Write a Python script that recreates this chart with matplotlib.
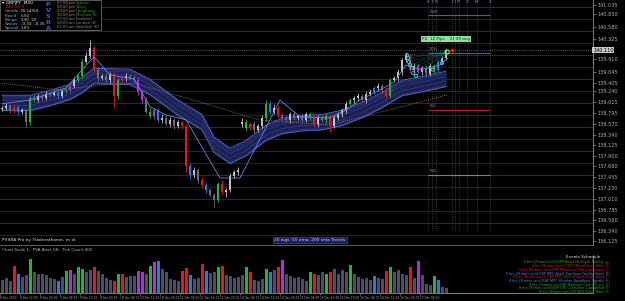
import numpy as np
import matplotlib.pyplot as plt

W, H = 625, 301

# GBPJPY bars (prices), one per slot
closes = [
    138.90, 138.94, 138.85, 138.92, 138.81, 138.85, 138.60, 139.10, 139.06, 139.14,
    139.10, 139.19, 139.17, 139.21, 139.14, 139.25, 139.27, 139.35, 139.48, 139.56,
    139.85, 139.98, 140.14, 139.69, 139.52, 139.56, 139.48, 139.60, 139.14, 139.48,
    139.52, 139.56, 139.52, 139.48, 139.23, 139.06, 138.81, 138.73, 138.85, 138.65,
    138.69, 138.56, 138.65, 138.52, 138.60, 138.52, 137.69, 137.50, 137.61, 137.40,
    137.30, 137.19, 137.09, 136.98, 137.32, 137.15, 137.19, 137.48, 137.56, 137.61,
    138.60, 138.48, 138.56, 138.44, 138.52, 138.69, 138.98, 138.81, 138.90, 138.75,
    138.69, 138.65, 138.77, 138.69, 138.73, 138.65, 138.77, 138.69, 138.56, 138.69,
    138.65, 138.73, 138.52, 138.69, 138.77, 138.85, 138.98, 139.06, 139.10, 139.14,
    139.06, 139.19, 139.23, 139.31, 139.35, 139.27, 139.14, 139.48, 139.52, 139.64,
    139.89, 139.98, 139.69, 139.77, 139.64, 139.73, 139.60, 139.77, 139.69, 139.85,
    139.93, 140.10,
]
first_open = 138.88
gap_open = {60: 138.56}
# wick extensions in pips
hi_ext = [
    4, 5, 3, 6, 4, 5, 3, 4, 6, 5,
    4, 6, 3, 5, 4, 3, 5, 4, 6, 5,
    6, 8, 17, 6, 5, 4, 7, 5, 4, 6,
    5, 7, 4, 6, 5, 4, 6, 8, 5, 4,
    7, 5, 6, 4, 5, 3, 4, 6, 5, 4,
    6, 4, 5, 3, 4, 8, 5, 6, 4, 5,
    9, 6, 5, 7, 4, 5, 8, 6, 7, 5,
    4, 6, 5, 7, 4, 6, 5, 4, 6, 5,
    4, 7, 5, 6, 4, 5, 6, 4, 5, 7,
    4, 6, 5, 4, 6, 5, 7, 4, 5, 6,
    5, 6, 4, 5, 7, 4, 5, 6, 4, 5,
    4, 3,
]
lo_ext = [
    5, 4, 6, 5, 7, 4, 10, 6, 4, 5,
    6, 4, 5, 3, 6, 4, 5, 4, 3, 5,
    4, 3, 5, 4, 6, 5, 4, 6, 24, 5,
    4, 6, 5, 4, 7, 6, 5, 4, 6, 5,
    6, 4, 5, 7, 4, 6, 13, 8, 5, 6,
    7, 6, 5, 14, 4, 6, 11, 5, 4, 6,
    5, 7, 4, 6, 5, 4, 6, 5, 4, 6,
    5, 4, 6, 5, 4, 6, 5, 4, 7, 5,
    4, 6, 12, 5, 4, 6, 5, 4, 6, 5,
    4, 6, 5, 4, 6, 7, 5, 4, 5, 6,
    5, 4, 6, 5, 4, 6, 5, 4, 6, 5,
    4, 3,
]
# tick volume
volume = [
    1300, 1500, 1200, 2800, 2000, 1600, 1800, 3500, 2200, 2000,
    2000, 1800, 1500, 1400, 1200, 1600, 2300, 2400, 2000, 2700,
    2500, 2200, 2400, 2700, 2300, 2000, 1500, 1300, 1200, 2000,
    2000, 1600, 1700, 1700, 2300, 2200, 2000, 2800, 3200, 3300,
    2500, 2200, 1400, 1300, 1200, 2300, 2600, 1800, 1400, 1500,
    3000, 2300, 2100, 2200, 2700, 2800, 1800, 1700, 1500, 1600,
    1800, 2700, 2200, 1300, 1200, 1400, 2500, 2200, 2400, 2700,
    3400, 2000, 1700, 1500, 1600, 1400, 1200, 2200, 2000, 1800,
    2200, 2000, 2200, 2500, 2000, 2400, 2200, 2900, 2000, 1600,
    1400, 1500, 1300, 1700, 1500, 1400, 2300, 2700, 2200, 2400,
    2000, 1800, 2700, 1500, 3300, 1800, 900, 800, 1700, 1300,
    600, 500,
]
# PVSRA highlighted bars: g climax bull, r climax bear, b / m above average
pvsra_bars = {
    3: "r", 4: "b", 7: "g", 14: "b", 16: "g", 17: "m", 19: "g", 20: "g", 23: "r",
    28: "r", 29: "g", 30: "r", 34: "m", 35: "m", 37: "g", 38: "m", 39: "b",
    45: "r", 46: "r", 47: "b", 50: "r", 51: "b", 54: "g", 55: "r", 61: "g",
    62: "r", 66: "g", 67: "b", 69: "r", 70: "m", 77: "g", 78: "r", 81: "g",
    82: "r", 87: "g", 93: "b", 96: "r", 97: "g", 102: "r", 104: "m", 108: "g",
    109: "b",
}

# moving average band (20 wgt / 50 ema) and fast line, 200 sma
band_idx = [0, 7, 12, 17, 20, 23, 32, 37, 44, 50, 53, 57, 61, 66, 70, 75, 80, 85, 90, 95, 100, 105, 111]
band_mid = [139.00, 139.00, 139.10, 139.23, 139.37, 139.56, 139.54, 139.33, 138.90, 138.60, 138.13,
            137.90, 138.06, 138.38, 138.52, 138.58, 138.60, 138.69, 138.85, 139.06, 139.31, 139.39, 139.50]
fast_idx = [0, 7, 16, 19.5, 23, 27, 33, 37, 41, 46, 54.5, 59.5, 69.5, 74.5, 82, 86, 89.5, 94.5, 98, 101, 104.5, 109.5, 111.5]
fast_val = [138.98, 139.06, 139.31, 139.64, 139.96, 139.58, 139.50, 138.92, 138.75, 138.65, 137.44,
            137.44, 139.06, 138.71, 138.69, 138.85, 139.06, 139.27, 139.43, 139.79, 139.69, 139.79, 139.93]
sma_idx = [0, 14.5, 24.5, 33, 49.5, 64, 82, 111.5]
sma_val = [139.41, 139.27, 139.37, 139.41, 139.02, 138.65, 138.54, 139.17]

round_levels = [141.00, 140.75, 140.50, 140.25, 140.00, 139.75, 139.50, 139.25, 139.00, 138.75,
                138.50, 138.25, 138.00, 137.75, 137.50, 137.25, 137.00, 136.75, 136.50, 136.25]
current_price = 140.10

# day / week levels drawn in the future area
level_names = ["PWH", "PDH", "PDL", "PWL"]
level_values = [140.82, 140.04, 138.85, 137.50]
level_colors = ["#5b4fc8", "#5b4fc8", "#b02030", "#808080"]
session_marks = [106.5, 107.5, 108.5, 112.5, 113.3, 114.3, 116.3, 118.8, 122.0]
session_tags = ["S", "T", "H", "1", "1", "F*", "L*", "N*", "S"]

ytick_values = [141.035, 140.850, 140.580, 140.325, 139.910, 139.645, 139.405, 139.240, 139.015,
                138.795, 138.570, 138.340, 138.125, 137.900, 137.680, 137.455, 137.230, 137.010,
                136.785, 136.560, 136.340, 136.125]
time_labels = ["8 Dec 2020", "8 Dec 12:00", "8 Dec 20:00", "9 Dec 04:00", "9 Dec 12:00", "9 Dec 20:00",
               "10 Dec 04:00", "10 Dec 12:00", "10 Dec 20:00", "11 Dec 04:00", "11 Dec 12:00",
               "11 Dec 20:00", "14 Dec 04:00", "14 Dec 12:00", "14 Dec 20:00", "15 Dec 04:00",
               "15 Dec 12:00", "15 Dec 20:00", "16 Dec 04:00", "16 Dec 12:00", "16 Dec 20:00",
               "17 Dec 04:00"]

vector_pts_idx = [101.2, 101.5, 101.7, 102.0, 102.5, 102.8, 103.5, 107.7, 110.0]
vector_pts_val = [140.00, 139.93, 139.85, 139.79, 139.73, 139.62, 139.56, 139.69, 139.83]

info_labels = ["Candle", "Pips/d", "Range", "Swaps", "Spread"]
info_values = ["00:14/50", "5.50", "130  50", "-0.33  -0.76", "2.80"]
session_times = ["07:00 pm", "08:00 pm", "09:00 pm", "10:00 pm", "07:00 am", "08:00 am", "01:00 am"]
session_cities = ["Sydney", "Tokyo", "HongKong", "Moscow (E)", "Frankfurt", "London (E)", "NewYork (E)"]

events = [
    "5 hrs 29 mins until GBP Asset Purchase Facility",
    "5 hrs 58 mins until GBP Official Bank Rate",
    "5 hrs 58 mins until GBP Monetary Policy Summary",
    "5 hrs 29 mins until GBP MPC Asset Purchase Facility Votes",
    "5 hrs 58 mins until GBP MPC Official Bank Rate Votes",
    "9 hrs 29 mins until GBP MPC Member Broadbent Speaks",
    "9 hrs 29 mins until JPY National Core CPI y/y",
    "8 hrs 58 mins until GBP GfK Consumer Confidence",
    "9 hrs 58 mins until JPY BOJ Policy Rate",
]
event_impact = ["(E)", "(E)", "(E)", "(E)", "(E)", "(E)", "(E)", "(E)", "(E)"]
event_colors = ["#22b422", "#e01a2c", "#e01a2c", "#4a8ce0", "#e01a2c", "#4a8ce0", "#22b422", "#22b422", "#22b422"]

PV_COLORS = {"g": "#1fb53a", "r": "#e3152b", "b": "#1f80dc", "m": "#b030e0"}
NARROW = ["Liberation Sans Narrow", "DejaVu Sans"]


def fxy(x, y):
    return x / W, 1 - y / H


closes = np.array(closes)
n = len(closes)
opens = np.r_[first_open, closes[:-1]]
for k, v in gap_open.items():
    opens[k] = v
highs = np.maximum(opens, closes) + np.array(hi_ext) * 0.01
lows = np.minimum(opens, closes) - np.array(lo_ext) * 0.01
idx = np.arange(n)

fig = plt.figure(figsize=(W / 100, H / 100), dpi=100, facecolor="black")
ax = fig.add_axes([0, 1 - 245 / H, 593 / W, 245 / H])
axv = fig.add_axes([0, 8 / H, 593 / W, 37 / H])
xlim = (-0.5, 147.75)

for a in (ax, axv):
    a.set_facecolor("black")
    a.set_xlim(*xlim)
    for s in ("left", "top"):
        a.spines[s].set_visible(False)
    a.spines["right"].set_color("#909090")
    a.spines["right"].set_linewidth(0.6)

ax.spines["bottom"].set_color("#707070")
ax.spines["bottom"].set_linewidth(0.6)
ax.set_ylim(136.048, 141.139)

# background levels
for lv in round_levels:
    frac = round(lv % 1, 2)
    col = "#1c2a5a" if frac == 0.0 else ("#143a1c" if frac == 0.5 else "#262626")
    ax.axhline(lv, color=col, lw=0.7, zorder=0)
ax.axhline(current_price, color="#7a7a7a", lw=0.6, ls=(0, (1, 1.5)), zorder=1)

for xm in session_marks:
    ax.vlines(xm, 136.35, 141.139, color="#5a5a5a", lw=0.5, ls=(0, (1, 1.5)), zorder=1)
for xm, tg in zip(session_marks, session_tags):
    ax.text(xm, 141.10, tg, color="#9a9a9a", fontsize=2.8, ha="center", va="center")

for name, val, col in zip(level_names, level_values, level_colors):
    ax.hlines(val, 106.5, 122.0, color=col, lw=0.8, zorder=2)
    ax.text(106.8, val + 0.035, name, color="#8a8a9a", fontsize=2.6, va="bottom", ha="left")

# MA band
bm = np.array(band_mid)
ax.fill_between(band_idx, bm - 0.16, bm + 0.16, color="#232a68", lw=0, zorder=2)
ax.fill_between(band_idx, bm - 0.10, bm + 0.10, color="#1b2050", lw=0, zorder=2)
for off, c, w in [(-0.16, "#5561b8", 0.7), (0.16, "#5561b8", 0.7), (-0.05, "#3a4396", 0.4), (0.05, "#3a4396", 0.4)]:
    ax.plot(band_idx, bm + off, color=c, lw=w, zorder=2)
ax.plot(sma_idx, sma_val, color="#a09050", lw=0.6, ls=(0, (1, 1.5)), zorder=2)

# candles
for i in idx:
    kind = pvsra_bars.get(i)
    up = closes[i] >= opens[i]
    col = PV_COLORS[kind] if kind else ("#c0c0c8" if up else "#6e6e78")
    ax.vlines(i, lows[i], highs[i], color=col, lw=0.6, zorder=3)
    lo, hi = sorted((opens[i], closes[i]))
    ax.bar(i, max(hi - lo, 0.012), bottom=lo, width=0.6, color=col, lw=0, zorder=3)

ax.plot(fast_idx, fast_val, color="#6f86e0", lw=0.6, zorder=4)

# vector circles / fan
for xv, yv in zip(vector_pts_idx, vector_pts_val):
    ax.plot([xv, 111.3], [yv, 140.06], color="#1a8a8a", lw=0.4, ls=(0, (1, 1)), zorder=4)
ax.scatter(vector_pts_idx, vector_pts_val, s=5, facecolors="none", edgecolors="#30e0f0", lw=0.6, zorder=5)
ax.scatter([111.3], [140.06], s=9, facecolors="none", edgecolors="#f0e020", lw=0.7, zorder=5)
ax.plot([112.5], [140.11], marker="+", color="#ff3030", ms=3, mew=0.7, zorder=5)
ax.text(111.0, 140.33, "PU  12 Pips    21 49 avg", fontsize=3.0, color="#0a3a0a", ha="center", va="center",
        bbox=dict(boxstyle="square,pad=0.25", fc="#8fe0a0", ec="none"), zorder=6)

# price axis
ax.yaxis.tick_right()
ax.set_yticks(ytick_values)
ax.set_yticklabels([f"{v:.3f}" for v in ytick_values])
ax.tick_params(axis="y", colors="#b0b0b0", labelsize=3.6, length=2, width=0.4, pad=1.5)
ax.set_xticks([])
ax.text(1.0, current_price, f"{140.110:.3f}", transform=ax.get_yaxis_transform(), fontsize=3.6,
        color="black", va="center", ha="left",
        bbox=dict(boxstyle="square,pad=0.15", fc="#c8c8c8", ec="none"), zorder=7)

# volume panel
vcols = [PV_COLORS[pvsra_bars[i]] if i in pvsra_bars else "#4b4e68" for i in idx]
axv.bar(idx, volume, width=0.75, color=vcols, lw=0)
axv.set_ylim(0, 3800)
axv.spines["bottom"].set_color("#909090")
axv.spines["bottom"].set_linewidth(0.6)
axv.set_yticks([])
axv.set_xticks(np.arange(len(time_labels)) * 5 - 0.4)
axv.set_xticklabels(time_labels, ha="left", family=NARROW)
axv.tick_params(axis="x", colors="#b0b0b0", labelsize=2.1, length=1.5, width=0.4, pad=0.8)

# top-left info panel
fig.patches.append(plt.Rectangle(fxy(0, 30), 101 / W, 30 / H, transform=fig.transFigure,
                                 fc="black", ec="#6a6a6a", lw=0.6, zorder=5))
fig.text(*fxy(2, 3), "\u25be GBPJPY  M30", color="white", fontsize=3.2, va="center", zorder=6)
fig.text(*fxy(5, 7.5), "140.10 \u2191", color="#ff2020", fontsize=3.2, va="center", zorder=6)
for k, (lab, val) in enumerate(zip(info_labels, info_values)):
    y = 11.5 + 4.2 * k
    fig.text(*fxy(5, y), lab, color="#8ea2d0", fontsize=3.0, va="center", zorder=6)
    fig.text(*fxy(21, y), val, color="#e0e0e0" if k < 4 else "#e0c040", fontsize=3.0, va="center", zorder=6)
for k, ch in enumerate("PVSRA"):
    fig.text(*fxy(48, 5 + 5.8 * k), ch, color="#4a5ad8", fontsize=4.6, fontweight="bold",
             ha="center", va="center", zorder=6)
for k, (tm, city) in enumerate(zip(session_times, session_cities)):
    y = 3 + 4 * k
    fig.text(*fxy(57, y), tm, color="#b09048" if k < 4 else "#8a8a8a", fontsize=2.7,
             family=NARROW, va="center", zorder=6)
    fig.text(*fxy(76, y), city, color="#2fa02f" if k < 4 else "#8a8a8a", fontsize=2.7,
             family=NARROW, va="center", zorder=6)

# bottom texts of the price panel
fig.text(*fxy(2, 240), "PVSRA Pro by Traderathome, et al.", color="#d8d8d8", fontsize=3.2, va="center")
fig.text(*fxy(274, 240), "20 wgt, 50 ema, 200 sma Trends", color="#c8cce8", fontsize=3.2, va="center",
         bbox=dict(boxstyle="square,pad=0.3", fc="#1c2258", ec="#4a54a0", lw=0.4))
fig.text(*fxy(2, 250), "Chart Scale 1,  PVA Alert Off,  Tick Count 405", color="#b8b8b8", fontsize=2.9, va="center")

# events schedule
fig.text(*fxy(600, 257), "Events Schedule", color="#e8e8e8", fontsize=3.0, ha="right", va="center")
for k, (ev, imp, col) in enumerate(zip(events, event_impact, event_colors)):
    y = 262.5 + 3.7 * k
    fig.text(*fxy(604, y), ev, color=col, fontsize=2.4, family=NARROW, ha="right", va="center")
    fig.text(*fxy(606, y), imp, color=col, fontsize=2.4, family=NARROW, ha="left", va="center")

fig.savefig("out.png", dpi=100, facecolor="black")
